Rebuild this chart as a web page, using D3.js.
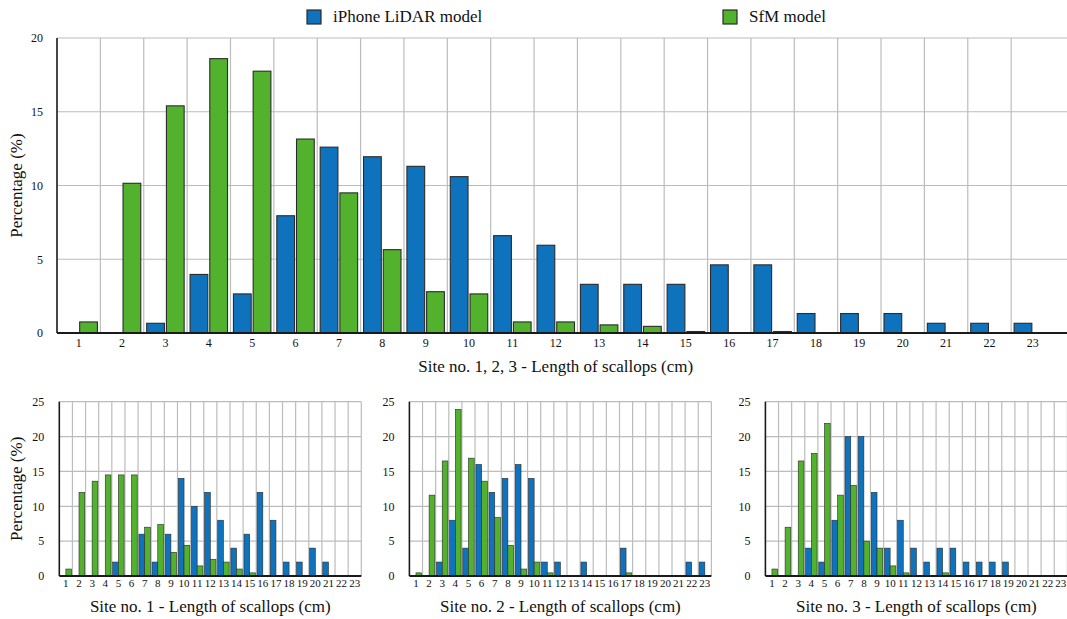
<!DOCTYPE html>
<html lang="en">
<head>
  <meta charset="UTF-8">
  <title>Length of scallops - iPhone LiDAR vs SfM</title>
  <script src="https://d3js.org/d3.v7.min.js"></script>
  <style>
    body { margin: 0; background: #fff; }
    svg text { fill: #111; }
  </style>
</head>
<body>
  <svg id="chart"></svg>

  <script>
    const FONT = "'Liberation Serif', Tinos, 'Times New Roman', 'DejaVu Serif', 'Noto Serif', serif";

    // Length classes (cm)
    const lengths = ["1","2","3","4","5","6","7","8","9","10","11","12",
                     "13","14","15","16","17","18","19","20","21","22","23"];

    // Sites 1, 2, 3 combined (%)
    const allLidar = [0, 0, 0.66, 3.97, 2.65, 7.95, 12.6, 11.95, 11.3, 10.6, 6.6, 5.95,
                      3.3, 3.3, 3.3, 4.62, 4.62, 1.32, 1.32, 1.32, 0.66, 0.66, 0.66];
    const allSfm   = [0.75, 10.15, 15.4, 18.6, 17.75, 13.15, 9.5, 5.65, 2.8, 2.65, 0.75, 0.75,
                      0.55, 0.45, 0.1, 0, 0.1, 0, 0, 0, 0, 0, 0];

    // Site no. 1 (%)
    const site1Lidar = [0, 0, 0, 0, 2, 0, 6, 2, 6, 14, 10, 12,
                        8, 4, 6, 12, 8, 2, 2, 4, 2, 0, 0];
    const site1Sfm   = [1, 12, 13.6, 14.5, 14.5, 14.5, 7, 7.4, 3.4, 4.4, 1.45, 2.4,
                        2, 1, 0.45, 0, 0, 0, 0, 0, 0, 0, 0];

    // Site no. 2 (%)
    const site2Lidar = [0, 0, 2, 8, 4, 16, 12, 14, 16, 14, 2, 2,
                        0, 2, 0, 0, 4, 0, 0, 0, 0, 2, 2];
    const site2Sfm   = [0.45, 11.6, 16.5, 23.9, 16.9, 13.6, 8.4, 4.4, 1, 2, 0.45, 0,
                        0, 0, 0, 0, 0.45, 0, 0, 0, 0, 0, 0];

    // Site no. 3 (%)
    const site3Lidar = [0, 0, 0, 4, 2, 8, 20, 20, 12, 4, 8, 4,
                        2, 4, 4, 2, 2, 2, 2, 0, 0, 0, 0];
    const site3Sfm   = [1, 7, 16.5, 17.6, 21.9, 11.6, 13, 5, 4, 1.45, 0.45, 0,
                        0, 0.45, 0, 0, 0, 0, 0, 0, 0, 0, 0];

    const topTicks  = [0, 5, 10, 15, 20];
    const siteTicks = [0, 5, 10, 15, 20, 25];

    const seriesNames = ["iPhone LiDAR model", "SfM model"];
    const colors = { lidar: "#0f72bd", sfm: "#52b22d" };

    const W = 1067, H = 619;
    const svg = d3.select("#chart").attr("width", W).attr("height", H);

    function drawPanel(p) {
      const g = svg.append("g");

      const x = d3.scaleBand()
        .domain(lengths)
        .range([p.left, p.left + p.step * lengths.length]);

      const xs = d3.scaleBand()
        .domain(["lidar", "sfm"])
        .range([0, x.bandwidth()])
        .paddingInner(p.innerPad)
        .paddingOuter(p.outerPad);

      const y = d3.scaleLinear()
        .domain([0, p.yMax])
        .range([p.bottom, p.top]);

      // horizontal grid
      g.append("g").selectAll("line")
        .data(p.ticks.slice(1))
        .join("line")
        .attr("x1", p.left).attr("x2", p.right)
        .attr("y1", d => y(d)).attr("y2", d => y(d))
        .attr("stroke", "#bcbcbc").attr("stroke-width", 1.2);

      // vertical grid (band boundaries)
      const vlines = lengths.slice(1).map(d => x(d));
      if (p.rightBorder) vlines.push(x.range()[1]);
      g.append("g").selectAll("line")
        .data(vlines)
        .join("line")
        .attr("x1", d => d).attr("x2", d => d)
        .attr("y1", p.top).attr("y2", p.bottom)
        .attr("stroke", "#bcbcbc").attr("stroke-width", 1.2);

      // bars
      const rows = lengths.map((c, i) => ({ c, lidar: p.lidar[i], sfm: p.sfm[i] }));
      const cells = [];
      rows.forEach(r => {
        ["lidar", "sfm"].forEach(k => { if (r[k] > 0) cells.push({ c: r.c, k, v: r[k] }); });
      });
      g.append("g").selectAll("rect")
        .data(cells)
        .join("rect")
        .attr("x", d => x(d.c) + xs(d.k))
        .attr("width", xs.bandwidth())
        .attr("y", d => y(d.v))
        .attr("height", d => y(0) - y(d.v))
        .attr("fill", d => colors[d.k])
        .attr("stroke", "#2b2b2b")
        .attr("stroke-width", p.barStroke);

      // y axis labels
      const yAxis = g.append("g")
        .attr("transform", `translate(${p.left},0)`)
        .call(d3.axisLeft(y).tickValues(p.ticks).tickSize(0).tickPadding(p.yPad));
      yAxis.attr("font-family", FONT);
      yAxis.select(".domain").remove();
      yAxis.selectAll("text")
        .style("font-family", FONT)
        .attr("font-size", 12)
        .attr("fill", "#111");

      // x axis labels
      const xAxis = g.append("g")
        .attr("transform", `translate(0,${p.bottom})`)
        .call(d3.axisBottom(x).tickSize(0).tickPadding(p.xPad));
      xAxis.attr("font-family", FONT);
      xAxis.select(".domain").remove();
      xAxis.selectAll("text")
        .style("font-family", FONT)
        .attr("font-size", p.xFont)
        .attr("fill", "#111");

      // axis lines
      g.append("line")
        .attr("x1", p.left).attr("x2", p.left)
        .attr("y1", p.top).attr("y2", p.bottom)
        .attr("stroke", "#1a1a1a").attr("stroke-width", 1.6);
      g.append("line")
        .attr("x1", p.left).attr("x2", p.right)
        .attr("y1", p.bottom).attr("y2", p.bottom)
        .attr("stroke", "#1a1a1a").attr("stroke-width", p.baseStroke);

      // x title
      g.append("text")
        .attr("x", (x.range()[0] + x.range()[1]) / 2)
        .attr("y", p.titleY)
        .attr("text-anchor", "middle")
        .style("font-family", FONT)
        .style("font-size", "17px")
        .text(p.title);

      if (p.yTitle) {
        g.append("text")
          .attr("transform", `translate(18,${(p.top + p.bottom) / 2}) rotate(-90)`)
          .attr("text-anchor", "middle")
          .attr("dominant-baseline", "middle")
          .style("font-family", FONT)
          .style("font-size", "17px")
          .text("Percentage (%)");
      }
    }

    // Top: all sites
    drawPanel({
      left: 57, step: 43.37, right: W, top: 38, bottom: 333,
      yMax: 20, ticks: topTicks, lidar: allLidar, sfm: allSfm,
      innerPad: 0.1, outerPad: 0.15, barStroke: 1.1, baseStroke: 2.2,
      yPad: 14, xPad: 5, xFont: 12, rightBorder: false,
      title: "Site no. 1, 2, 3 - Length of scallops (cm)", titleY: 372, yTitle: true
    });

    // Bottom: per site
    const sitePanels = [
      { left: 59.3,  lidar: site1Lidar, sfm: site1Sfm, title: "Site no. 1 - Length of scallops (cm)", yTitle: true },
      { left: 409.4, lidar: site2Lidar, sfm: site2Sfm, title: "Site no. 2 - Length of scallops (cm)", yTitle: false },
      { left: 765.4, lidar: site3Lidar, sfm: site3Sfm, title: "Site no. 3 - Length of scallops (cm)", yTitle: false }
    ];
    sitePanels.forEach(s => {
      drawPanel(Object.assign({
        step: 13.13, top: 401.7, bottom: 576, yMax: 25, ticks: siteTicks,
        innerPad: 0, outerPad: 0.15, barStroke: 0.6, baseStroke: 1.8,
        yPad: 15, xPad: 3, xFont: 11, rightBorder: true, titleY: 612
      }, s, { right: Math.min(W, s.left + 13.13 * lengths.length) }));
    });

    // Legend
    const legend = svg.append("g");
    const legendItems = [
      { name: seriesNames[0], key: "lidar", x: 307 },
      { name: seriesNames[1], key: "sfm", x: 723 }
    ];
    legend.selectAll("rect")
      .data(legendItems)
      .join("rect")
      .attr("x", d => d.x).attr("y", 10)
      .attr("width", 14).attr("height", 14)
      .attr("fill", d => colors[d.key])
      .attr("stroke", "#2b2b2b").attr("stroke-width", 1.2);
    legend.selectAll("text")
      .data(legendItems)
      .join("text")
      .attr("x", d => d.x + 26).attr("y", 22)
      .style("font-family", FONT)
      .style("font-size", "17px")
      .text(d => d.name);
  </script>
</body>
</html>
